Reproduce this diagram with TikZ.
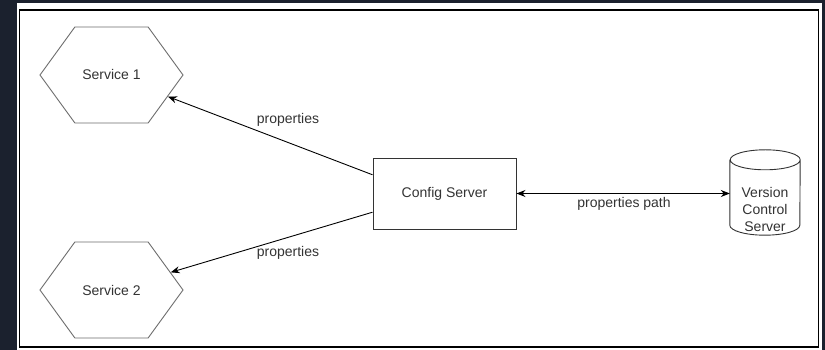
\documentclass[tikz,border=0pt]{standalone}
\usepackage{fontspec}
\setmainfont{Liberation Sans}
\usetikzlibrary{shapes.symbols,arrows.meta,calc}
\definecolor{framedark}{RGB}{27,33,46}
\definecolor{ink}{RGB}{51,51,51}
\definecolor{hexline}{RGB}{110,110,110}
\begin{document}
\begin{tikzpicture}[x=1pt,y=1pt,
  hexnode/.style={shape=signal, signal to=east and west, signal pointer angle=108,
    minimum width=143pt, minimum height=96pt, inner sep=0pt,
    draw=hexline, line width=0.9pt, text=ink, font=\fontsize{14}{16}\selectfont},
  boxnode/.style={rectangle, draw=ink, line width=0.9pt, minimum width=143pt,
    minimum height=71pt, inner sep=0pt, text=ink, font=\fontsize{14}{16}\selectfont},
  lbl/.style={text=ink, font=\fontsize{14}{17}\selectfont, inner sep=0pt},
  conn/.style={draw=black, line width=0.9pt},
  tipend/.style={-{Stealth[length=9pt,width=7pt]}},
  tipboth/.style={{Stealth[length=9pt,width=7pt]}-{Stealth[length=9pt,width=7pt]}}
]
% page background and framed canvas
\useasboundingbox (0,0) rectangle (825,350);
\fill[framedark] (0,0) rectangle (825,350);
\fill[white] (17,0) rectangle (822,347);
\draw[black, line width=1.5pt] (19.5,3) rectangle (818.5,340);

% services, config server, repository
\node[hexnode] (s1) at (111.5,275) {Service 1};
\node[hexnode] (s2) at (111.5,60) {Service 2};
\node[boxnode] (cfg) at (444.5,156.5) {Config Server};
\node[minimum width=70pt, minimum height=85pt, inner sep=0pt] (vcs) at (765,157.5) {};

% cylinder outline for the repository
\draw[ink, line width=0.9pt]
  ($(vcs.north west)+(0,-10)$) -- ($(vcs.south west)+(0,10)$)
  arc[start angle=180, end angle=360, x radius=35pt, y radius=10pt]
  -- ($(vcs.north east)+(0,-10)$)
  arc[start angle=0, end angle=180, x radius=35pt, y radius=10pt]
  arc[start angle=180, end angle=360, x radius=35pt, y radius=10pt];
\node[lbl, align=center] (vcstext) at ($(vcs.center)+(0,-17)$) {Version\\Control\\Server};

% connectors
\draw[conn, tipend] ($(cfg.north west)!0.24!(cfg.south west)$) -- (s1);
\draw[conn, tipend] ($(cfg.north west)!0.76!(cfg.south west)$) -- (s2);
\draw[conn, tipboth] (cfg.east) -- (cfg.east -| vcs.west);

% connector labels
\node[lbl] (l1) at (288,230) {properties};
\node[lbl] (l2) at (288,97) {properties};
\node[lbl] (l3) at (624,146) {properties path};
\end{tikzpicture}
\end{document}
